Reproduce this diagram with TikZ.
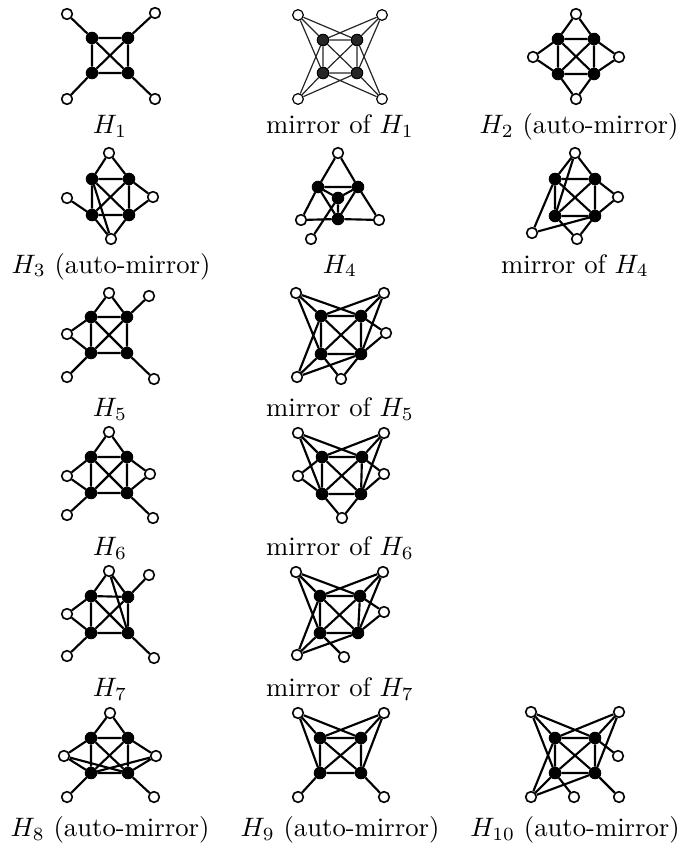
\documentclass[tikz,border=0pt]{standalone}
\usetikzlibrary{backgrounds}
\newcommand\KFour[4]{\draw[ed] (#1)--(#2)--(#4)--(#3)--(#1) (#1)--(#4) (#2)--(#3);}
\tikzset{
 bn/.style={circle,fill=black,draw=black,inner sep=0pt,minimum size=4.3pt},
 wn/.style={circle,fill=white,draw=black,line width=0.6pt,inner sep=0pt,minimum size=4.0pt},
 ed/.style={line width=0.8pt},
 thin ed/.style={line width=0.45pt,draw=black!85},
 lab/.style={anchor=base}
}
\begin{document}
\begin{tikzpicture}[x=0.375pt,y=-0.375pt]
\useasboundingbox (0,0) rectangle (680,848);
% ---------- G1 H1
\node[bn] (a1) at (92,38) {}; \node[bn] (b1) at (128,38) {};
\node[bn] (c1) at (92,73) {}; \node[bn] (d1) at (128,73) {};
\node[wn] (p1) at (67,14) {}; \node[wn] (q1) at (155,13) {};
\node[wn] (r1) at (67,99) {}; \node[wn] (s1) at (155,99) {};
\KFour{a1}{b1}{c1}{d1}
\draw[ed] (p1)--(a1) (q1)--(b1) (r1)--(c1) (s1)--(d1);
\node[lab] (L1) at (110,134) {$H_1$};
% ---------- G2 mirror H1
\node[bn,fill=black!85] (a2) at (323,40) {}; \node[bn,fill=black!85] (b2) at (357,40) {};
\node[bn,fill=black!85] (c2) at (323,73) {}; \node[bn,fill=black!85] (d2) at (357,73) {};
\node[wn,line width=0.45pt] (p2) at (298,15) {}; \node[wn,line width=0.45pt] (q2) at (382,15) {};
\node[wn,line width=0.45pt] (r2) at (298,99) {}; \node[wn,line width=0.45pt] (s2) at (382,99) {};
\begin{pgfonlayer}{background}
\draw[thin ed] (a2)--(b2)--(d2)--(c2)--(a2) (a2)--(d2) (b2)--(c2);
\draw[thin ed] (p2)--(b2) (p2)--(c2) (p2)--(a2) (q2)--(a2) (q2)--(d2) (q2)--(b2)
  (r2)--(a2) (r2)--(d2) (r2)--(c2) (s2)--(b2) (s2)--(c2) (s2)--(d2);
\end{pgfonlayer}
\node[lab] (L2) at (340,134) {mirror of $H_1$};
% ---------- G3 H2
\node[bn] (a3) at (558,39) {}; \node[bn] (b3) at (594,39) {};
\node[bn] (c3) at (558,74) {}; \node[bn] (d3) at (594,74) {};
\node[wn] (t3) at (576,14) {}; \node[wn] (l3) at (533,57) {};
\node[wn] (r3) at (619,57) {}; \node[wn] (u3) at (576,99) {};
\KFour{a3}{b3}{c3}{d3}
\draw[ed] (t3)--(a3) (t3)--(b3) (l3)--(a3) (l3)--(c3) (r3)--(b3) (r3)--(d3) (u3)--(c3) (u3)--(d3);
\node[lab] (L3) at (579,134) {$H_2$ (auto-mirror)};
% ---------- G4 H3
\node[bn] (a4) at (92,179) {}; \node[bn] (b4) at (129,179) {};
\node[bn] (c4) at (92,215) {}; \node[bn] (d4) at (129,215) {};
\node[wn] (t4) at (109,153) {}; \node[wn] (l4) at (67,198) {};
\node[wn] (r4) at (153,197) {}; \node[wn] (u4) at (111,239) {};
\KFour{a4}{b4}{c4}{d4}
\draw[ed] (t4)--(a4) (t4)--(b4) (l4)--(c4) (r4)--(b4) (r4)--(d4) (u4)--(c4) (u4)--(d4) (u4)--(a4);
\node[lab] (L4) at (111,273) {$H_3$ (auto-mirror)};
% ---------- G5 H4
\node[bn] (a5) at (318,187) {}; \node[bn] (b5) at (358,187) {};
\node[bn] (m5) at (338,198) {}; \node[bn] (n5) at (338,219) {};
\node[wn] (t5) at (338,153) {}; \node[wn] (l5) at (301,220) {};
\node[wn] (r5) at (379,220) {}; \node[wn] (p5) at (311,239) {};
\begin{pgfonlayer}{background}
\draw[ed] (t5)--(a5) (t5)--(b5) (a5)--(b5) (a5)--(m5) (b5)--(m5) (m5)--(n5)
  (a5)--(n5) (b5)--(n5) (a5)--(l5) (b5)--(r5) (l5)--(n5) (n5)--(r5) (p5)--(m5);
\end{pgfonlayer}
\node[lab] (L5) at (340,273) {$H_4$};
% ---------- G6 mirror H4
\node[bn] (a6) at (555,179) {}; \node[bn] (b6) at (595,179) {};
\node[bn] (c6) at (555,216) {}; \node[bn] (d6) at (595,216) {};
\node[wn] (t6) at (575,153) {}; \node[wn] (r6) at (618,197) {};
\node[wn] (u6) at (577,239) {}; \node[wn] (l6) at (532,233) {};
\KFour{a6}{b6}{c6}{d6}
\draw[ed] (t6)--(a6) (t6)--(b6) (t6)--(c6) (r6)--(b6) (r6)--(d6) (u6)--(c6) (u6)--(d6) (l6)--(a6) (l6)--(d6);
\node[lab] (L6) at (575,273) {mirror of $H_4$};
% ---------- G7 H5
\node[bn] (a7) at (91,317) {}; \node[bn] (b7) at (127,317) {};
\node[bn] (c7) at (91,353) {}; \node[bn] (d7) at (127,353) {};
\node[wn] (t7) at (109,293) {}; \node[wn] (q7) at (149,296) {};
\node[wn] (l7) at (67,334) {}; \node[wn] (r7) at (67,377) {}; \node[wn] (s7) at (154,379) {};
\KFour{a7}{b7}{c7}{d7}
\draw[ed] (t7)--(a7) (t7)--(b7) (q7)--(b7) (l7)--(a7) (l7)--(c7) (r7)--(c7) (s7)--(d7);
\node[lab] (L7) at (110,416) {$H_5$};
% ---------- G8 mirror H5
\node[bn] (a8) at (321,316) {}; \node[bn] (b8) at (361,316) {};
\node[bn] (c8) at (321,354) {}; \node[bn] (d8) at (361,354) {};
\node[wn] (p8) at (296,293) {}; \node[wn] (q8) at (384,293) {};
\node[wn] (r8) at (386,333) {}; \node[wn] (s8) at (297,377) {}; \node[wn] (u8) at (341,379) {};
\begin{pgfonlayer}{background}
\KFour{a8}{b8}{c8}{d8}
\draw[ed] (p8)--(b8) (p8)--(c8) (p8)--(a8) (q8)--(a8) (q8)--(d8) (q8)--(b8)
  (r8)--(b8) (r8)--(d8) (s8)--(a8) (s8)--(d8) (s8)--(c8) (u8)--(c8) (u8)--(d8);
\end{pgfonlayer}
\node[lab] (L8) at (340,416) {mirror of $H_5$};
% ---------- G9 H6
\node[bn] (a9) at (91,457) {}; \node[bn] (b9) at (127,457) {};
\node[bn] (c9) at (91,493) {}; \node[bn] (d9) at (127,493) {};
\node[wn] (t9) at (109,432) {}; \node[wn] (l9) at (67,476) {};
\node[wn] (r9) at (150,474) {}; \node[wn] (p9) at (67,515) {}; \node[wn] (q9) at (153,518) {};
\KFour{a9}{b9}{c9}{d9}
\draw[ed] (t9)--(a9) (t9)--(b9) (l9)--(a9) (l9)--(c9) (r9)--(b9) (r9)--(d9) (p9)--(c9) (q9)--(d9);
\node[lab] (L9) at (110,555) {$H_6$};
% ---------- G10 mirror H6
\node[bn] (a10) at (322,457) {}; \node[bn] (b10) at (362,457) {};
\node[bn] (c10) at (322,494) {}; \node[bn] (d10) at (361,494) {};
\node[wn] (p10) at (298,433) {}; \node[wn] (q10) at (384,433) {};
\node[wn] (l10) at (298,476) {}; \node[wn] (r10) at (384,474) {}; \node[wn] (u10) at (342,518) {};
\begin{pgfonlayer}{background}
\KFour{a10}{b10}{c10}{d10}
\draw[ed] (p10)--(b10) (p10)--(c10) (p10)--(a10) (q10)--(a10) (q10)--(d10) (q10)--(b10)
  (l10)--(a10) (l10)--(c10) (r10)--(b10) (r10)--(d10) (u10)--(c10) (u10)--(d10);
\end{pgfonlayer}
\node[lab] (L10) at (340,555) {mirror of $H_6$};
% ---------- G11 H7
\node[bn] (a11) at (91,596) {}; \node[bn] (b11) at (128,597) {};
\node[bn] (c11) at (91,633) {}; \node[bn] (d11) at (128,633) {};
\node[wn] (t11) at (109,571) {}; \node[wn] (q11) at (149,575) {};
\node[wn] (l11) at (67,614) {}; \node[wn] (p11) at (67,656) {}; \node[wn] (s11) at (154,658) {};
\KFour{a11}{b11}{c11}{d11}
\draw[ed] (t11)--(a11) (t11)--(b11) (t11)--(d11) (q11)--(b11) (l11)--(a11) (l11)--(c11) (p11)--(c11) (s11)--(d11);
\node[lab] (L11) at (110,696) {$H_7$};
% ---------- G12 mirror H7
\node[bn] (a12) at (320,596) {}; \node[bn] (b12) at (360,596) {};
\node[bn] (c12) at (320,633) {}; \node[bn] (d12) at (358,633) {};
\node[wn] (p12) at (296,572) {}; \node[wn] (q12) at (383,572) {};
\node[wn] (r12) at (384,612) {}; \node[wn] (s12) at (297,655) {}; \node[wn] (u12) at (344,657) {};
\begin{pgfonlayer}{background}
\KFour{a12}{b12}{c12}{d12}
\draw[ed] (p12)--(b12) (p12)--(c12) (p12)--(a12) (q12)--(a12) (q12)--(d12) (q12)--(b12)
  (r12)--(b12) (r12)--(d12) (s12)--(a12) (s12)--(d12) (s12)--(c12) (u12)--(c12);
\end{pgfonlayer}
\node[lab] (L12) at (340,696) {mirror of $H_7$};
% ---------- G13 H8
\node[bn] (a13) at (91,738) {}; \node[bn] (b13) at (128,738) {};
\node[bn] (c13) at (91,773) {}; \node[bn] (d13) at (128,773) {};
\node[wn] (t13) at (110,713) {}; \node[wn] (l13) at (64,756) {};
\node[wn] (r13) at (156,756) {}; \node[wn] (p13) at (67,797) {}; \node[wn] (q13) at (154,797) {};
\KFour{a13}{b13}{c13}{d13}
\draw[ed] (t13)--(a13) (t13)--(b13) (l13)--(a13) (l13)--(c13) (l13)--(d13) (r13)--(b13) (r13)--(d13) (r13)--(c13) (p13)--(c13) (q13)--(d13);
\node[lab] (L13) at (110,836) {$H_8$ (auto-mirror)};
% ---------- G14 H9
\node[bn] (a14) at (320,738) {}; \node[bn] (b14) at (361,738) {};
\node[bn] (c14) at (320,773) {}; \node[bn] (d14) at (361,773) {};
\node[wn] (p14) at (298,713) {}; \node[wn] (q14) at (384,713) {};
\node[wn] (s14) at (298,797) {}; \node[wn] (v14) at (384,797) {};
\begin{pgfonlayer}{background}
\KFour{a14}{b14}{c14}{d14}
\draw[ed] (p14)--(b14) (p14)--(c14) (p14)--(a14) (q14)--(a14) (q14)--(d14) (q14)--(b14) (s14)--(c14) (v14)--(d14);
\end{pgfonlayer}
\node[lab] (L14) at (340,836) {$H_9$ (auto-mirror)};
% ---------- G15 H10
\node[bn] (a15) at (555,738) {}; \node[bn] (b15) at (595,738) {};
\node[bn] (c15) at (555,773) {}; \node[bn] (d15) at (595,773) {};
\node[wn] (p15) at (531,712) {}; \node[wn] (q15) at (619,712) {};
\node[wn] (r15) at (618,756) {}; \node[wn] (s15) at (531,797) {};
\node[wn] (u15) at (574,797) {}; \node[wn] (v15) at (619,797) {};
\begin{pgfonlayer}{background}
\KFour{a15}{b15}{c15}{d15}
\draw[ed] (p15)--(b15) (p15)--(c15) (p15)--(a15) (q15)--(a15) (q15)--(d15) (q15)--(b15)
  (r15)--(b15) (s15)--(a15) (s15)--(d15) (s15)--(c15) (u15)--(c15) (v15)--(d15);
\end{pgfonlayer}
\node[lab] (L15) at (575,836) {$H_{10}$ (auto-mirror)};
\end{tikzpicture}
\end{document}
